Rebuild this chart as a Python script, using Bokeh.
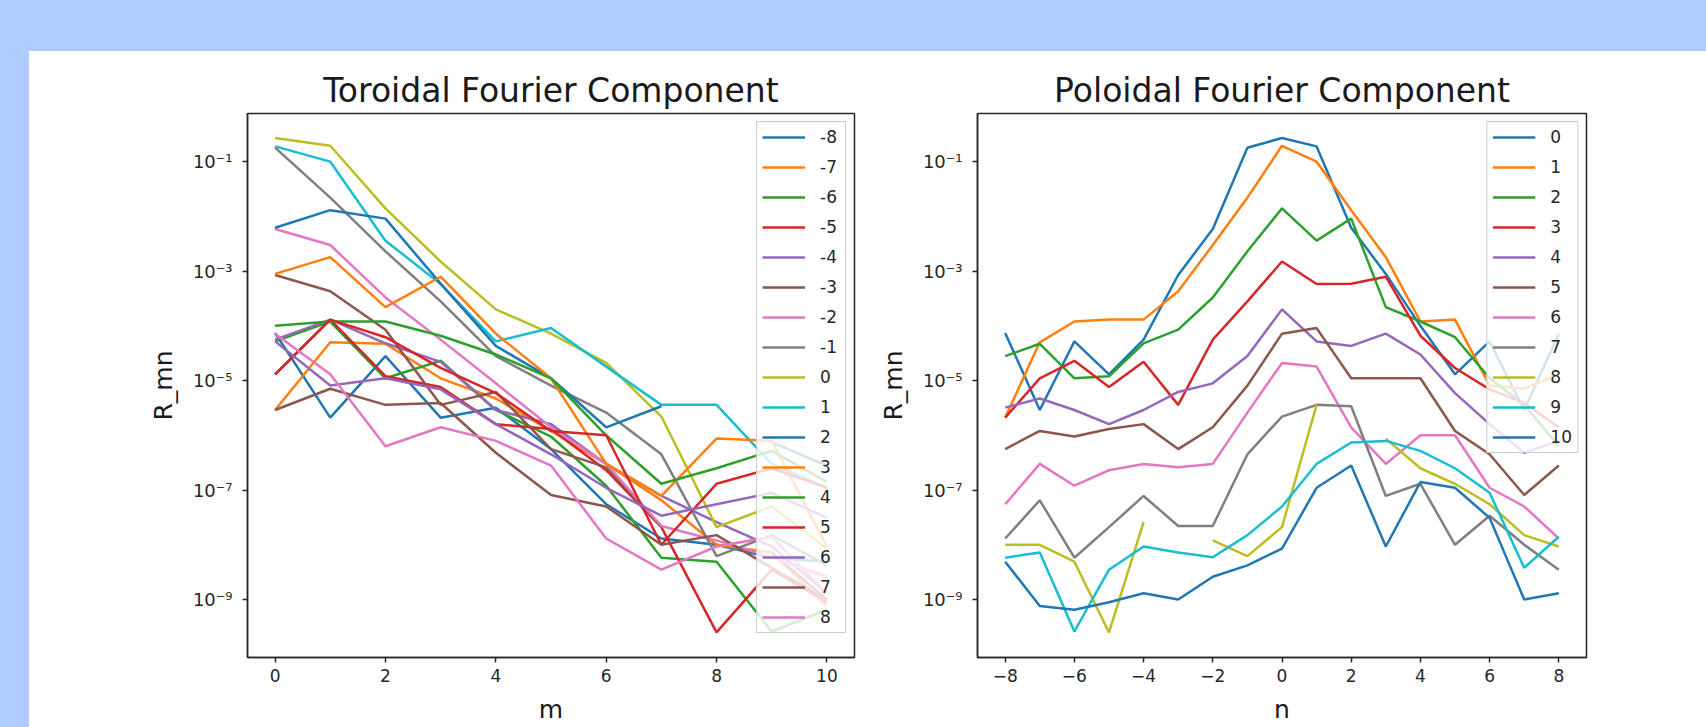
from bokeh.plotting import figure
from bokeh.models import (Range1d, FixedTicker, CustomJSTickFormatter, Legend, LegendItem,
                          Spacer, GlobalInlineStyleSheet)
from bokeh.layouts import row, column
from bokeh.embed import file_html
from bokeh.resources import INLINE

nan = float("nan")

# poloidal mode numbers (left x axis) and toroidal mode numbers (right x axis)
m_values = list(range(0, 11))
n_values = list(range(-8, 9))

# R_mn: one list per m, entries for n = -8 .. 8
R_m0 = [7.4e-5, 2.9e-6, 5.2e-5, 1.3e-5, 5.6e-5, 8.5e-4, 5.9e-3, 0.18, 0.27, 0.19, 6.2e-3, 8.9e-4, 1.0e-4, 1.3e-5, 5.2e-5, 2.9e-6, 7.2e-5]
R_m1 = [2.1e-6, 5.0e-5, 1.2e-4, 1.3e-4, 1.3e-4, 4.3e-4, 3.0e-3, 2.2e-2, 0.195, 0.10, 1.3e-2, 1.8e-3, 1.2e-4, 1.3e-4, 8.1e-6, 7.1e-6, 1.3e-5]
R_m2 = [2.8e-5, 4.7e-5, 1.1e-5, 1.2e-5, 4.8e-5, 8.5e-5, 3.3e-4, 2.3e-3, 1.4e-2, 3.6e-3, 9.1e-3, 2.2e-4, 1.2e-4, 6.2e-5, 1.1e-5, 3.6e-6, 6.3e-7]
R_m3 = [2.1e-6, 1.1e-5, 2.3e-5, 7.6e-6, 2.2e-5, 3.6e-6, 5.6e-5, 2.8e-4, 1.5e-3, 5.8e-4, 5.9e-4, 7.9e-4, 6.6e-5, 1.7e-5, 6.9e-6, 3.9e-6, 1.4e-6]
R_m4 = [3.2e-6, 4.7e-6, 2.9e-6, 1.6e-6, 2.9e-6, 6.2e-6, 8.9e-6, 2.8e-5, 2.0e-4, 5.2e-5, 4.3e-5, 7.2e-5, 3.0e-5, 5.9e-6, 1.6e-6, 4.8e-7, 7.9e-7]
R_m5 = [5.6e-7, 1.2e-6, 9.5e-7, 1.3e-6, 1.6e-6, 5.6e-7, 1.4e-6, 8.1e-6, 7.2e-5, 9.1e-5, 1.1e-5, 1.1e-5, 1.1e-5, 1.2e-6, 4.5e-7, 8.1e-8, 2.8e-7]
R_m6 = [5.5e-8, 3.0e-7, 1.2e-7, 2.3e-7, 3.0e-7, 2.6e-7, 3.0e-7, 2.6e-6, 2.1e-5, 1.8e-5, 1.4e-6, 3.0e-7, 1.0e-6, 1.0e-6, 1.1e-7, 5.0e-8, 1.3e-8]
R_m7 = [1.3e-8, 6.5e-8, 5.8e-9, 2.1e-8, 7.8e-8, 2.2e-8, 2.2e-8, 4.5e-7, 2.2e-6, 3.6e-6, 3.4e-6, 7.8e-8, 1.3e-7, 1.0e-8, 3.4e-8, 1.0e-8, 3.5e-9]
R_m8 = [1.0e-8, 1.0e-8, 4.9e-9, 2.5e-10, 2.6e-8, nan, 1.2e-8, 6.2e-9, 2.1e-8, 3.6e-6, nan, 8.7e-7, 2.5e-7, 1.3e-7, 5.5e-8, 1.5e-8, 9.3e-9]
R_m9 = [5.8e-9, 7.2e-9, 2.6e-10, 3.5e-9, 9.3e-9, 7.2e-9, 5.9e-9, 1.5e-8, 5.0e-8, 3.0e-7, 7.4e-7, 7.9e-7, 5.2e-7, 2.5e-7, 8.9e-8, 3.8e-9, 1.4e-8]
R_m10 = [4.9e-9, 7.6e-10, 6.5e-10, 8.9e-10, 1.3e-9, 1.0e-9, 2.6e-9, 4.2e-9, 8.5e-9, 1.1e-7, 2.8e-7, 9.3e-9, 1.4e-7, 1.1e-7, 3.1e-8, 1.0e-9, 1.3e-9]

R_rows = [R_m0, R_m1, R_m2, R_m3, R_m4, R_m5, R_m6, R_m7, R_m8, R_m9, R_m10]

left_x_ticks = [0, 2, 4, 6, 8, 10]
right_x_ticks = [-8, -6, -4, -2, 0, 2, 4, 6, 8]
y_ticks = [1e-9, 1e-7, 1e-5, 1e-3, 1e-1]

tab10 = ["#1f77b4", "#ff7f0e", "#2ca02c", "#d62728", "#9467bd",
         "#8c564b", "#e377c2", "#7f7f7f", "#bcbd22", "#17becf"]

FONT = "DejaVu Sans"
BLUE_BG = "#b0cbff"
INK = "#262626"

y_fmt = CustomJSTickFormatter(code="""
const e = Math.round(Math.log10(tick));
const sup = {'-':'\u207b','0':'\u2070','1':'\u00b9','2':'\u00b2','3':'\u00b3','4':'\u2074',
             '5':'\u2075','6':'\u2076','7':'\u2077','8':'\u2078','9':'\u2079'};
return '10' + String(e).split('').map(c => sup[c]).join('');
""")
x_fmt = CustomJSTickFormatter(code="""
return tick < 0 ? '\u2212' + Math.abs(tick) : String(tick);
""")


def make_fig(title, xlabel, x_range, x_ticks, width, bl, br):
    p = figure(width=width, height=676, y_axis_type="log",
               x_range=Range1d(*x_range), y_range=Range1d(10 ** -10.06, 10 ** -0.12),
               output_backend="svg", toolbar_location=None,
               min_border_left=bl, min_border_right=br, min_border_top=62, min_border_bottom=70,
               background_fill_color="white", border_fill_color="white")
    p.title.text = title
    p.title.text_font = FONT
    p.title.text_font_size = "33px"
    p.title.text_font_style = "normal"
    p.title.text_color = "#1a1a1a"
    p.title.align = "center"
    p.title.standoff = 7
    p.grid.visible = False
    p.outline_line_color = INK
    p.outline_line_width = 1.5
    p.outline_line_alpha = 1.0
    for ax in (p.xaxis[0], p.yaxis[0]):
        ax.axis_line_color = INK
        ax.axis_line_width = 1.5
        ax.major_tick_line_color = INK
        ax.major_tick_line_width = 1.5
        ax.major_tick_out = 5
        ax.major_tick_in = 0
        ax.minor_tick_line_color = None
        ax.major_label_text_font = FONT
        ax.major_label_text_font_size = "17px"
        ax.major_label_text_color = "#262626"
        ax.major_label_standoff = 6
        ax.axis_label_text_font = FONT
        ax.axis_label_text_font_size = "25px"
        ax.axis_label_text_font_style = "normal"
        ax.axis_label_text_color = "#1a1a1a"
    p.yaxis.major_label_text_font_size = "18px"
    p.yaxis.major_label_standoff = 10
    p.xaxis.axis_label = xlabel
    p.xaxis.axis_label_standoff = 10
    p.yaxis.axis_label = "R_mn"
    p.yaxis.axis_label_standoff = 12
    p.xaxis.ticker = FixedTicker(ticks=x_ticks, minor_ticks=[])
    p.xaxis.formatter = x_fmt
    p.yaxis.ticker = FixedTicker(ticks=y_ticks, minor_ticks=[])
    p.yaxis.formatter = y_fmt
    return p


def add_legend(p, items):
    lg = Legend(items=items, location="top_right", margin=8, padding=5, spacing=10,
                label_height=20, glyph_height=20, glyph_width=43, label_standoff=15,
                label_text_font=FONT, label_text_font_size="17px", label_text_color="#262626",
                background_fill_color="white", background_fill_alpha=0.8,
                border_line_color="#cccccc", border_line_width=1, border_line_alpha=1.0)
    p.add_layout(lg)


# Left: toroidal component, one line per n, versus m
p1 = make_fig("Toroidal Fourier Component", "m", (-0.5, 10.5), left_x_ticks, 841, 218, 16)
items1 = []
for j, n in enumerate(n_values):
    ys = [R_rows[i][j] for i in range(len(m_values))]
    r = p1.line(m_values, ys, line_color=tab10[j % 10], line_width=2.5)
    items1.append(LegendItem(label=str(n), renderers=[r]))
add_legend(p1, items1)

# Right: poloidal component, one line per m, versus n
p2 = make_fig("Poloidal Fourier Component", "n", (-8.8, 8.8), right_x_ticks, 836, 107, 120)
items2 = []
for i, m in enumerate(m_values):
    r = p2.line(n_values, R_rows[i], line_color=tab10[i % 10], line_width=2.5)
    items2.append(LegendItem(label=str(m), renderers=[r]))
add_legend(p2, items2)

top = Spacer(width=1706, height=51)
top.styles = {"background-color": BLUE_BG}
left = Spacer(width=29, height=676)
left.styles = {"background-color": BLUE_BG}
plots = row(left, p1, p2, spacing=0)
plots.styles = {"background-color": "white"}
layout = column(top, plots, spacing=0)
layout.styles = {"background-color": BLUE_BG}
layout.stylesheets = [GlobalInlineStyleSheet(
    css="html, body { margin: 0 !important; padding: 0; background: %s; overflow: hidden; }" % BLUE_BG)]

open("out.html", "w").write(file_html(layout, INLINE))
